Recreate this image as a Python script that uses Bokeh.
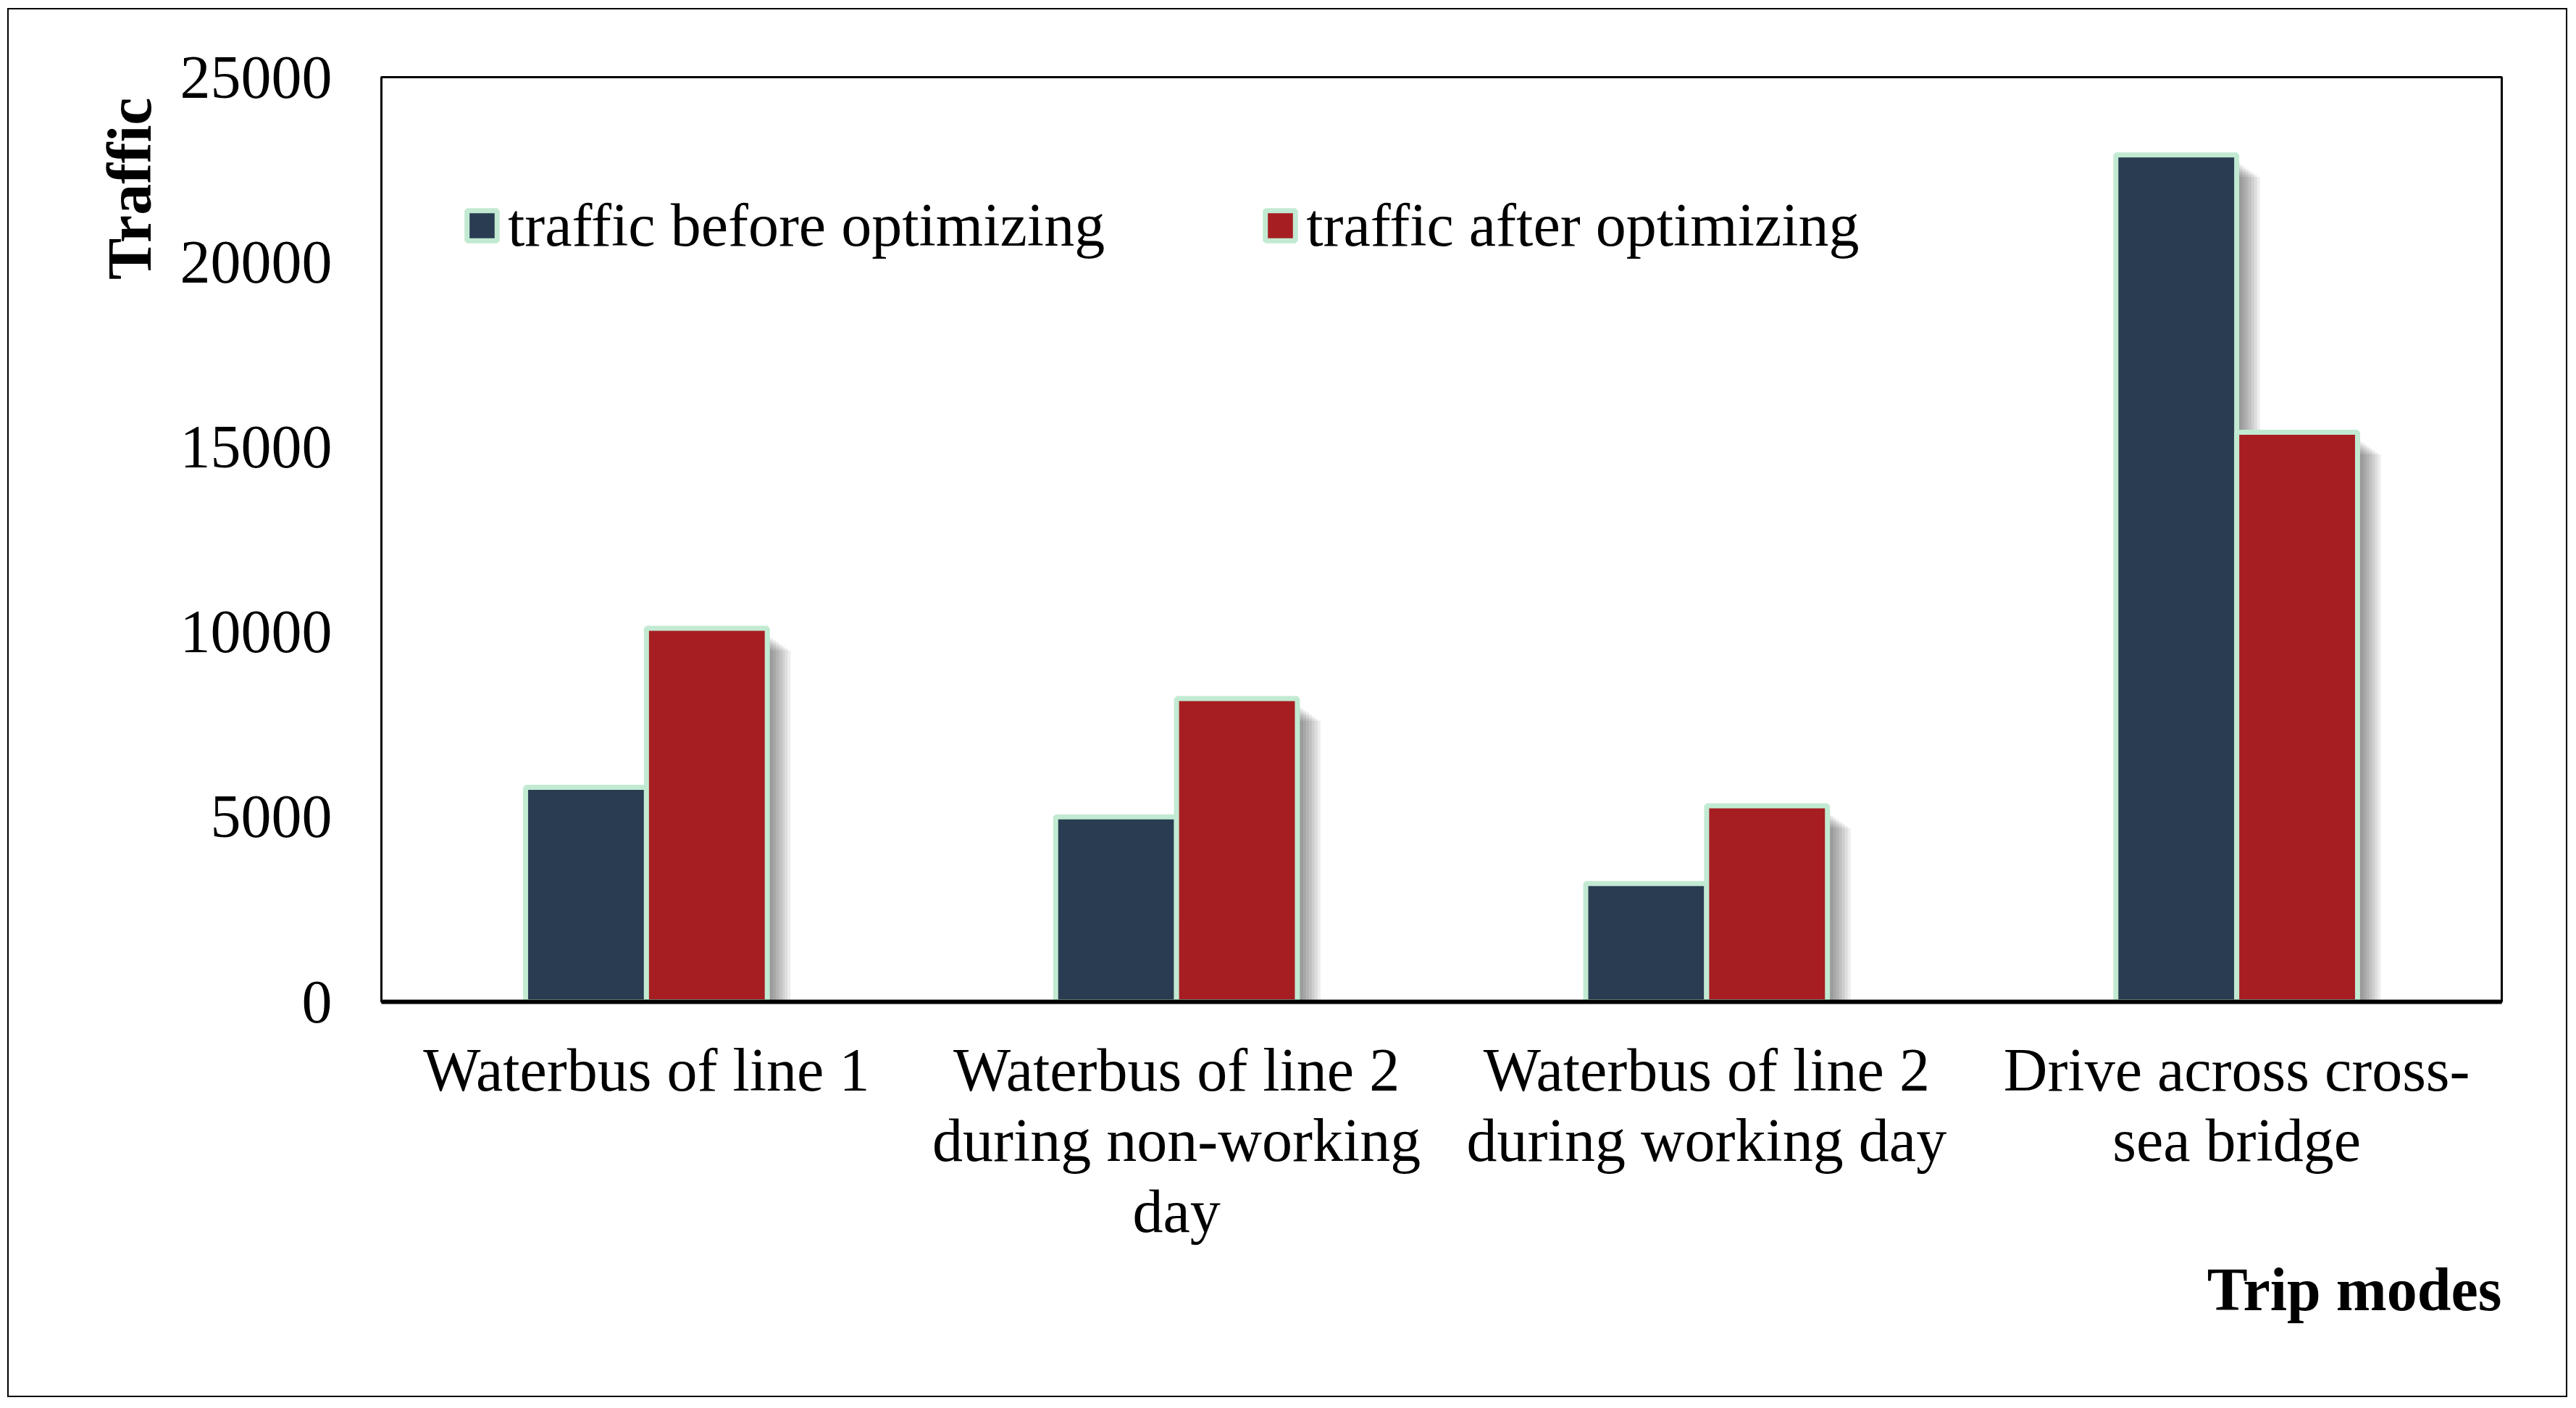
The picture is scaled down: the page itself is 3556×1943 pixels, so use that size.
from bokeh.plotting import figure
from bokeh.models import (ColumnDataSource, FactorRange, Range1d, FixedTicker,
                          Legend, LegendItem, Title)
from bokeh.transform import dodge
from bokeh.embed import file_html
from bokeh.resources import INLINE

# ---------------- data ----------------
categories = [
    "Waterbus of line 1",
    "Waterbus of line 2\nduring non-working\nday",
    "Waterbus of line 2\nduring working day",
    "Drive across cross-\nsea bridge",
]
before_values = [5800, 5000, 3200, 22900]
after_values = [10100, 8200, 5300, 15400]
series_names = ["traffic before optimizing", "traffic after optimizing"]
y_ticks = [0, 5000, 10000, 15000, 20000, 25000]
y_max = 25000
x_title = "Trip modes"
y_title = "Traffic"

# ---------------- style ----------------
FONT = "Liberation Serif"
DARK = "#293c51"
RED = "#a61e22"
MINT = "#c2ead2"
BAR_W = 0.228
OFF = 0.114

W, H = 3534, 1917
ML, MT, MR, MB = 514, 93, 93, 548
frame_w = (W - 4) - ML - MR
frame_h = (H - 4) - MT - MB
px_x = len(categories) / frame_w
px_y = y_max / frame_h

src = ColumnDataSource(dict(cat=categories, before=before_values, after=after_values))

p = figure(x_range=FactorRange(*categories), y_range=Range1d(0, y_max),
           width=W, height=H, output_backend="svg", toolbar_location=None,
           min_border_left=ML, min_border_top=MT, min_border_right=MR,
           min_border_bottom=MB)
p.styles = {"border": "2px solid black", "position": "relative",
            "left": "10px", "top": "11px"}
p.background_fill_color = "white"
p.border_fill_color = "white"
p.outline_line_color = "black"
p.outline_line_width = 3
p.xgrid.grid_line_color = None
p.ygrid.grid_line_color = None

# soft drop shadows (derived from the bar values)
for s in [4, 8, 12, 16, 20, 24, 28, 32]:
    for off, key in [(-OFF, "before"), (OFF, "after")]:
        vals = src.data[key]
        ssrc = ColumnDataSource(dict(cat=categories,
                                     top=[v - (8 + 0.7 * s) * px_y for v in vals]))
        p.vbar(x=dodge("cat", off + s * px_x, range=p.x_range), top="top",
               width=BAR_W, source=ssrc, fill_color="black", fill_alpha=0.065,
               line_color=None)

r1 = p.vbar(x=dodge("cat", -OFF, range=p.x_range), top="before", width=BAR_W,
            source=src, fill_color=DARK, line_color=MINT, line_width=7)
r2 = p.vbar(x=dodge("cat", OFF, range=p.x_range), top="after", width=BAR_W,
            source=src, fill_color=RED, line_color=MINT, line_width=7)

# axes
yax = p.yaxis[0]
yax.ticker = FixedTicker(ticks=y_ticks)
yax.axis_line_color = None
yax.major_tick_line_color = None
yax.minor_tick_line_color = None
yax.major_label_standoff = 62
yax.major_label_text_font = FONT
yax.major_label_text_font_size = "84px"
yax.major_label_text_color = "black"

xax = p.xaxis[0]
xax.axis_line_color = "black"
xax.axis_line_width = 6
xax.major_tick_line_color = None
xax.minor_tick_line_color = None
xax.major_label_standoff = 41
xax.major_label_text_font = FONT
xax.major_label_text_font_size = "84px"
xax.major_label_text_line_height = 1.05
xax.major_label_text_color = "black"

# axis titles
p.add_layout(Title(text=y_title, align="right", text_font=FONT,
                   text_font_size="86px", text_font_style="bold",
                   text_color="black", standoff=37, offset=28), "left")
p.add_layout(Title(text=x_title, align="right", text_font=FONT,
                   text_font_size="84px", text_font_style="bold",
                   text_color="black", standoff=20), "below")

legend = Legend(items=[LegendItem(label=series_names[0], renderers=[r1]),
                       LegendItem(label=series_names[1], renderers=[r2])],
                orientation="horizontal", location=(113, 1023), padding=0,
                margin=0, spacing=216, glyph_width=52, glyph_height=52,
                label_standoff=10, label_text_font=FONT,
                label_text_font_size="84px", label_text_color="black",
                border_line_color=None, background_fill_alpha=0)
p.add_layout(legend)

open("out.html", "w").write(file_html(p, INLINE))
